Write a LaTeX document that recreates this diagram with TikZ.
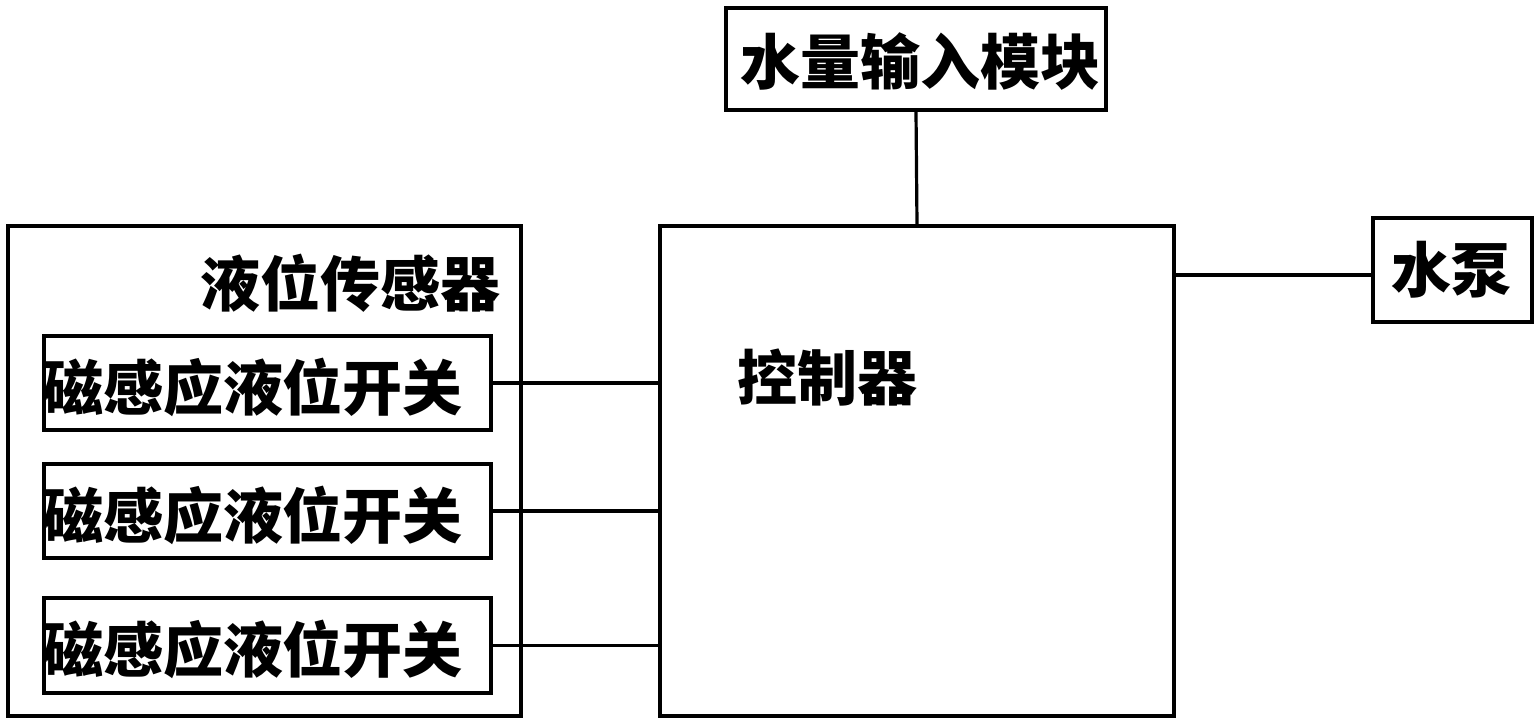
\documentclass[tikz,border=0pt]{standalone}
\usepackage{fontspec}
\newfontfamily\cjk{Noto Sans CJK SC}
\begin{document}
\begin{tikzpicture}[x=1pt,y=-1pt,
  box/.style={draw=black,line width=3.2pt,inner sep=0pt,minimum width=#1},
  txt/.style={inner sep=0pt,font=\cjk\bfseries\fontsize{60}{60}\selectfont},
  wire/.style={draw=black,line width=3.2pt}]
\useasboundingbox (0,0) rectangle (1540,723);
% boxes
\node[box=380pt,minimum height=102pt] (wi) at (916,59) {};
\node[box=514pt,minimum height=490pt] (ctrl) at (917,471) {};
\node[box=159pt,minimum height=104pt] (pump) at (1452.5,270) {};
\node[box=513pt,minimum height=490pt] (sens) at (264.5,471) {};
\node[box=447pt,minimum height=94pt] (s1) at (267.5,383) {};
\node[box=447pt,minimum height=94pt] (s2) at (267.5,511) {};
\node[box=447pt,minimum height=95pt] (s3) at (267.5,645.5) {};
% texts
\node[txt] (twi) at (920,62) {水量输入模块};
\node[txt] (tctrl) at (827,378) {控制器};
\node[txt] (tpump) at (1451,270) {水泵};
\node[txt] (tsens) at (350,283) {液位传感器};
\node[txt] (ts1) at (253,387) {磁感应液位开关};
\node[txt] (ts2) at (253,515) {磁感应液位开关};
\node[txt] (ts3) at (253,649) {磁感应液位开关};
% connectors
\draw[wire] (wi.south) -- (ctrl.north);
\draw[wire] ([yshift=-5pt]pump.west) -- ([yshift=-5pt]pump.west -| ctrl.east);
\draw[wire] (s1.east) -- (s1.east -| ctrl.west);
\draw[wire] (s2.east) -- (s2.east -| ctrl.west);
\draw[wire] (s3.east) -- (s3.east -| ctrl.west);
\end{tikzpicture}
\end{document}
